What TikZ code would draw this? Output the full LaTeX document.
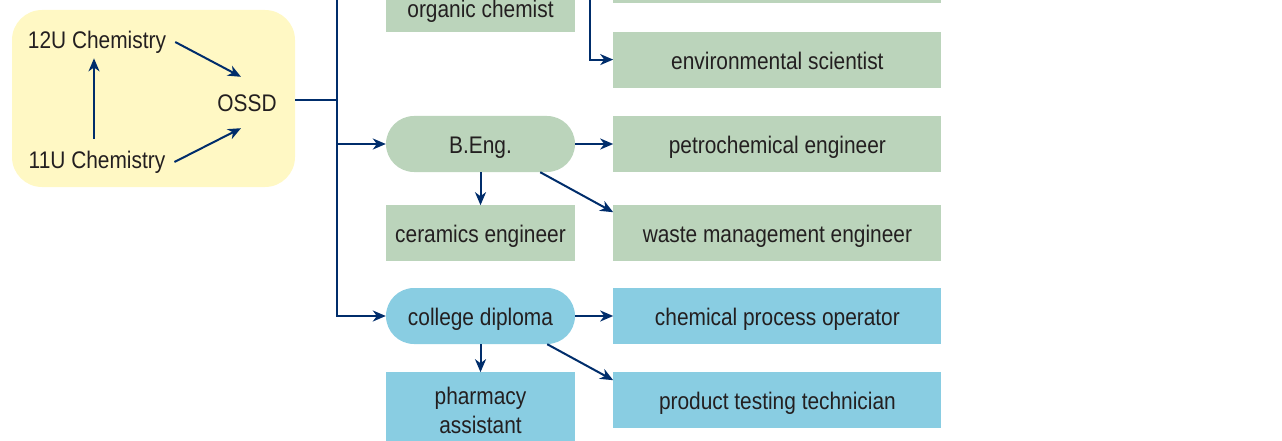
\documentclass[tikz,border=0pt]{standalone}
\usepackage{fontspec}
\setmainfont{Liberation Sans}[FakeStretch=0.87]
\usetikzlibrary{arrows.meta,positioning}
\definecolor{pathnavy}{RGB}{0,45,107}
\definecolor{pathyellow}{RGB}{255,248,196}
\definecolor{pathgreen}{RGB}{187,212,187}
\definecolor{pathblue}{RGB}{137,205,226}
\definecolor{pathtext}{RGB}{35,31,32}
\tikzset{
 school/.style={rectangle,rounded corners=30pt,fill=pathyellow,minimum width=283pt,minimum height=177pt},
 course/.style={inner sep=0pt,text=pathtext},
 degree/.style={rectangle,rounded corners=28pt,minimum width=189pt,minimum height=56pt,inner sep=0pt,text height=19pt,text depth=0pt,text=pathtext},
 job/.style={rectangle,minimum width=328pt,minimum height=56pt,inner sep=0pt,align=center,text height=19pt,text depth=0pt,text=pathtext},
 short job/.style={job,minimum width=189pt},
 arrow/.style={-{Stealth[length=13pt,width=11pt,inset=4pt]},line width=2pt,draw=pathnavy},
 link/.style={line width=2pt,draw=pathnavy}}

\begin{document}
\begin{tikzpicture}[x=1pt,y=-1pt,font=\fontsize{24}{29}\selectfont,node distance=38pt]
\useasboundingbox (0,0) rectangle (1282,441);
\clip (0,0) rectangle (1282,441);
% high school
\node[school] (pre) at (153.5,98.5) {};
\node[course] (c12) at (97,42) {12U Chemistry};
\node[course] (c11) at (97,162) {11U Chemistry};
\node[course,minimum width=64pt,minimum height=50pt] (ossd) at (247,103) {OSSD};
\draw[arrow,shorten <=12pt,shorten >=5pt] ([xshift=-3pt]c11.north) -- ([xshift=-3pt]c12.south);
\draw[arrow] ([xshift=9pt]c12.east) -- ([xshift=-6pt,yshift=1pt]ossd.north);
\draw[arrow] ([xshift=9pt]c11.east) -- ([xshift=-6pt]ossd.south);
% university / college
\node[degree,fill=pathgreen] (beng) at (480.5,144) {B.Eng.};
\node[job,fill=pathgreen,right=of beng] (petro) {petrochemical engineer};
\node[job,fill=pathgreen,above=28pt of petro] (env) {environmental scientist};
\node[job,fill=pathgreen,above=28pt of env] (topjob) {};
\node[short job,fill=pathgreen,above=84pt of beng,minimum height=48pt] (org) {organic chemist};
\node[short job,fill=pathgreen,below=33pt of beng] (ceram) {ceramics engineer};
\node[job,fill=pathgreen,right=of ceram] (waste) {waste management engineer};
\node[degree,fill=pathblue] (dip) at (480.5,316) {college diploma};
\node[job,fill=pathblue,right=of dip] (chem) {chemical process operator};
\node[job,fill=pathblue,below=28pt of chem] (prod) {product testing technician};
\node[short job,fill=pathblue,below=28pt of dip,minimum height=76pt,text height={},text depth={}] (pharm) {pharmacy\\assistant};
\coordinate (jtop) at (337,-10);
\coordinate (jmid) at (337,100);
\coordinate (ktop) at (590,-10);
\draw[link] (pre.east |- jmid) -- (jmid);
\draw[arrow] (jtop) |- (dip.west);
\draw[arrow] (jtop |- beng) -- (beng.west);
\draw[arrow] (ktop) |- (env.west);
\draw[arrow] (beng) -- (petro);
\draw[arrow] (beng.south) -- (ceram.north);
\draw[arrow] ([xshift=-35pt]beng.south east) -- ([yshift=-7pt]waste.north west);
\draw[arrow] (dip) -- (chem);
\draw[arrow] (dip.south) -- (pharm.north);
\draw[arrow] ([xshift=-28pt]dip.south east) -- ([yshift=-8pt]prod.north west);
\end{tikzpicture}
\end{document}
